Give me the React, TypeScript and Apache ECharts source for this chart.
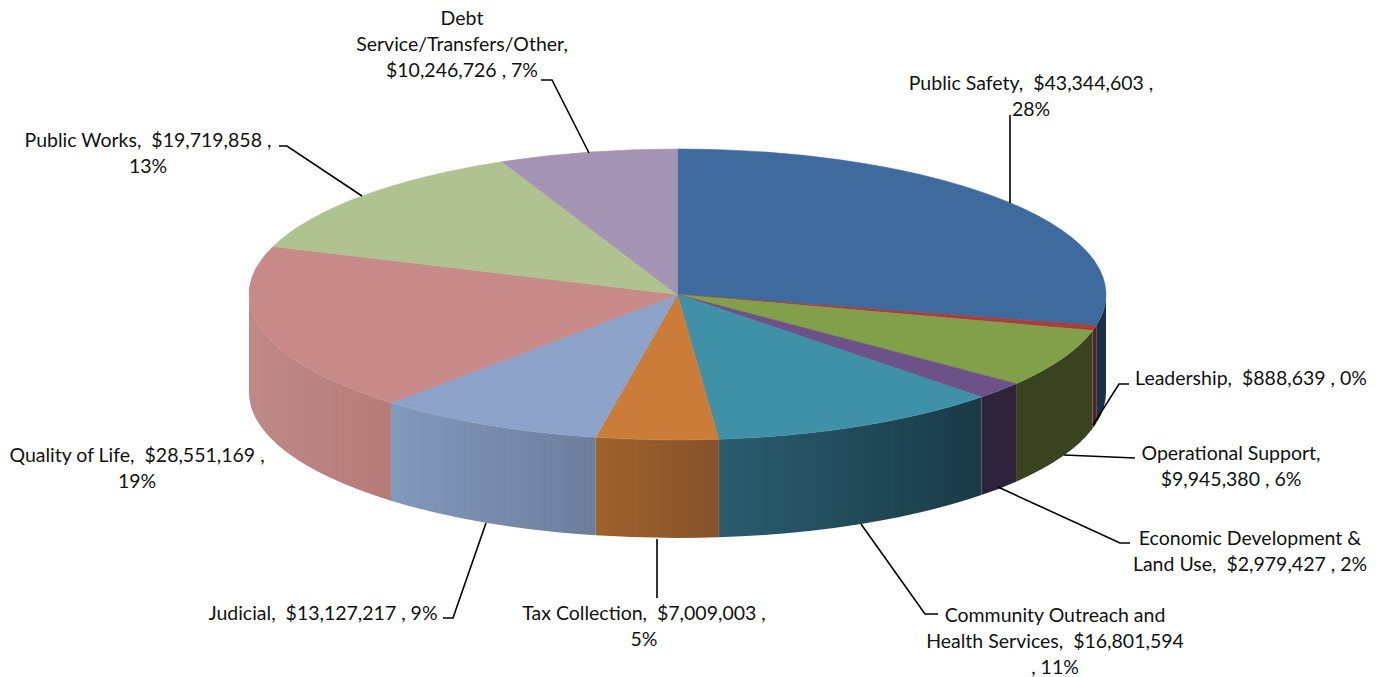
import React, { useEffect, useRef } from "react";
import * as echarts from "echarts";

// Budget by function, in dollars, clockwise from twelve o'clock.
const categories = [
  "Public Safety",
  "Leadership",
  "Operational Support",
  "Economic Development &\nLand Use",
  "Community Outreach and\nHealth Services",
  "Tax Collection",
  "Judicial",
  "Quality of Life",
  "Public Works",
  "Debt\nService/Transfers/Other",
];
const amounts = [
  43344603, 888639, 9945380, 2979427, 16801594, 7009003, 13127217, 28551169,
  19719858, 10246726,
];
const percents = [28, 0, 6, 2, 11, 5, 9, 19, 13, 7];

const topColors = [
  "#3F6A9E", "#A6403D", "#82A04A", "#6C5288", "#3F91A8",
  "#CC7C39", "#8DA2C8", "#C78A88", "#B0C290", "#A394B4",
];
// Left and right shades of each slice's outer wall.
const wallColors = [
  ["#1B3149", "#1B3149"], ["#5A2323", "#5A2323"], ["#3A431F", "#3A431F"],
  ["#2E233A", "#2E233A"], ["#2A5D6E", "#1A3A47"], ["#A0622C", "#85522A"],
  ["#8298BC", "#6D7E9C"], ["#BE8988", "#B67B79"], ["#B0C290", "#B0C290"],
  ["#A394B4", "#A394B4"],
];

// Text placement: centre of the block, and how each label breaks.
const labelSpots = [
  { x: 1031, y: 95, afterName: ",  ", afterAmount: " ,\n" },
  { x: 1251, y: 377, afterName: ",  ", afterAmount: " , " },
  { x: 1231, y: 465, afterName: ",\n", afterAmount: " , " },
  { x: 1250, y: 550, afterName: ",  ", afterAmount: " , " },
  { x: 1055, y: 640, afterName: ",  ", afterAmount: "\n, " },
  { x: 644, y: 625, afterName: ",  ", afterAmount: " ,\n" },
  { x: 323, y: 612, afterName: ",  ", afterAmount: " , " },
  { x: 137, y: 467, afterName: ",  ", afterAmount: " ,\n" },
  { x: 148, y: 152, afterName: ",  ", afterAmount: " ,\n" },
  { x: 462, y: 43, afterName: ",\n", afterAmount: " , " },
];
const leaderLines = [
  [[1010, 115], [1010, 203]],
  [[1093, 425], [1119, 384], [1129, 384]],
  [[1064, 455], [1135, 458]],
  [[998, 487], [1120, 543], [1130, 543]],
  [[861, 524], [925, 614], [938, 614]],
  [[657, 539], [657, 598]],
  [[486, 523], [453, 618], [443, 618]],
  [[362, 196], [287, 146], [279, 146]],
  [[589, 153], [552, 80], [541, 80]],
];

const CX = 677.5;
const CY = 294.5;
const RX = 428.5;
const RY = 145.5;
const DEPTH = 98;
const FONT = '19.5px Lato, "Open Sans", sans-serif';

const total = amounts.reduce((a, b) => a + b, 0);

// Angles run clockwise from the top of the ellipse.
const pointAt = (angle: number, dy = 0) => [
  CX + RX * Math.sin(angle),
  CY - RY * Math.cos(angle) + dy,
];
const arcTo = (angle: number, dy: number, sweep: 0 | 1, large = 0) => {
  const [x, y] = pointAt(angle, dy);
  return `A${RX} ${RY} 0 ${large} ${sweep} ${x} ${y}`;
};

const renderSlice = (params: any, api: any) => {
  const index = params.dataIndex;
  const before = amounts.slice(0, index).reduce((a, b) => a + b, 0);
  const start = (before / total) * Math.PI * 2;
  const end = start + (api.value(0) / total) * Math.PI * 2;
  const children: any[] = [];

  const wallStart = Math.max(start, Math.PI / 2);
  const wallEnd = Math.min(end, (Math.PI * 3) / 2);
  if (wallEnd > wallStart) {
    const [sx, sy] = pointAt(wallStart);
    const [ex, ey] = pointAt(wallEnd, DEPTH);
    const [left, right] = wallColors[index];
    // Walls run right to left along the front of the disc.
    children.push({
      type: "path",
      shape: {
        pathData:
          `M${sx} ${sy}` +
          arcTo(wallEnd, 0, 1) +
          `L${ex} ${ey}` +
          arcTo(wallStart, DEPTH, 0) +
          "Z",
      },
      style: {
        fill: new echarts.graphic.LinearGradient(0, 0, 1, 0, [
          { offset: 0, color: left },
          { offset: 1, color: right },
        ]),
        stroke: null,
      },
    });
  }

  const [tx, ty] = pointAt(start);
  children.push({
    type: "path",
    shape: {
      pathData:
        `M${CX} ${CY}L${tx} ${ty}` +
        arcTo(end, 0, 1, end - start > Math.PI ? 1 : 0) +
        "Z",
    },
    style: { fill: topColors[index], stroke: topColors[index], lineWidth: 0.6 },
  });
  return { type: "group", children };
};

const labelText = (i: number) =>
  `${categories[i]}${labelSpots[i].afterName}$${amounts[i].toLocaleString("en-US")}` +
  `${labelSpots[i].afterAmount}${percents[i]}%`;

export default function App() {
  const ref = useRef<HTMLDivElement>(null);
  useEffect(() => {
    const chart = echarts.init(ref.current!, undefined, { renderer: "svg" });
    chart.setOption({
      animation: false,
      backgroundColor: "#ffffff",
      series: [
        {
          type: "custom",
          coordinateSystem: "none",
          silent: true,
          data: amounts.map((v) => [v]),
          renderItem: renderSlice,
        },
      ],
      graphic: [
        ...leaderLines.map((points) => ({
          type: "polyline",
          z: 10,
          silent: true,
          shape: { points },
          style: { fill: null, stroke: "#000000", lineWidth: 1.6 },
        })),
        ...categories.map((_, i) => ({
          type: "text",
          z: 11,
          silent: true,
          x: labelSpots[i].x,
          y: labelSpots[i].y,
          style: {
            text: labelText(i),
            font: FONT,
            lineHeight: 26,
            fill: "#111111",
            align: "center",
            verticalAlign: "middle",
          },
        })),
      ],
    });
    return () => chart.dispose();
  }, []);
  return (
    <div
      ref={ref}
      style={{ position: "fixed", left: 0, top: 0, width: 1385, height: 677 }}
    />
  );
}
